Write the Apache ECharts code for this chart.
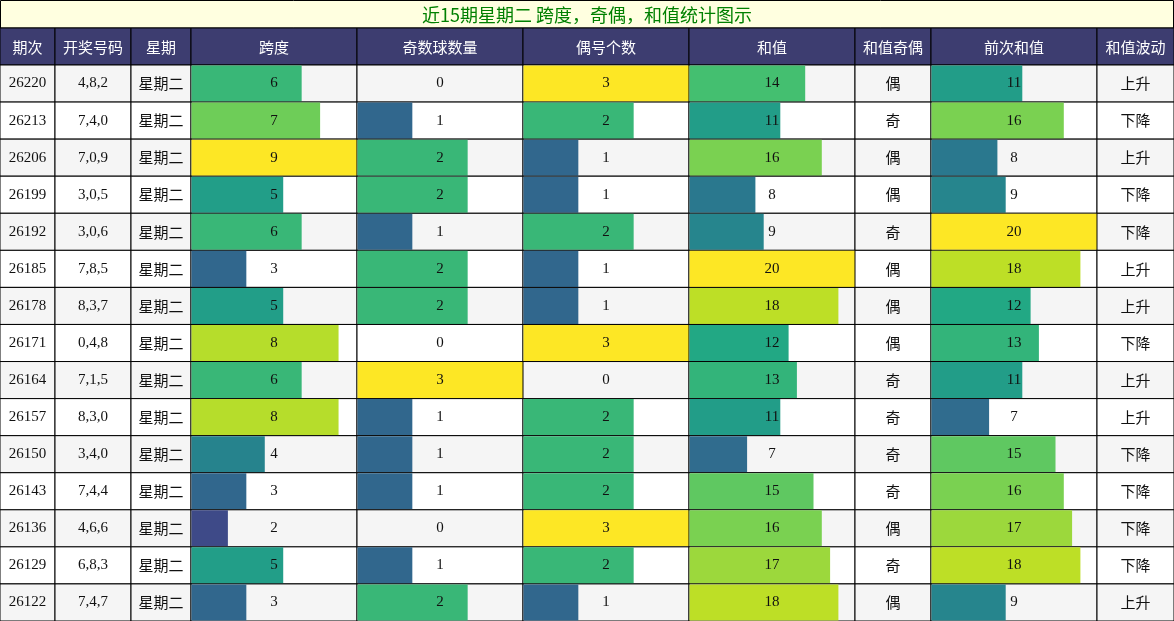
<!DOCTYPE html>
<html><head><meta charset="utf-8">
<script src="https://cdn.jsdelivr.net/npm/echarts@6/dist/echarts.min.js"></script>
<style>html,body{margin:0;padding:0;background:#fff}#c{width:1174px;height:621px}</style>
</head><body><div id="c"></div>
<script>
const title = '近15期星期二 跨度，奇偶，和值统计图示';
const headers = ['期次','开奖号码','星期','跨度','奇数球数量','偶号个数','和值','和值奇偶','前次和值','和值波动'];
const periods = ['26220','26213','26206','26199','26192','26185','26178','26171','26164','26157','26150','26143','26136','26129','26122'];
const codes = ['4,8,2','7,4,0','7,0,9','3,0,5','3,0,6','7,8,5','8,3,7','0,4,8','7,1,5','8,3,0','3,4,0','7,4,4','4,6,6','6,8,3','7,4,7'];
const weekday = Array(15).fill('星期二');
const span = [6,7,9,5,6,3,5,8,6,8,4,3,2,5,3];
const oddCount = [0,1,2,2,1,2,2,0,3,1,1,1,0,1,2];
const evenCount = [3,2,1,1,2,1,1,3,0,2,2,2,3,2,1];
const sums = [14,11,16,8,9,20,18,12,13,11,7,15,16,17,18];
const sumOE = ['偶','奇','偶','偶','奇','偶','偶','偶','奇','奇','奇','奇','偶','奇','偶'];
const prevSum = [11,16,8,9,20,18,12,13,11,7,15,16,17,18,9];
const trend = ['上升','下降','上升','下降','下降','上升','上升','下降','上升','上升','下降','下降','下降','下降','上升'];

const edges = [0,55,131,191,357,523,689,855,931,1097,1174];
const TOP = 65;
const viridis = ['#440154','#482475','#414487','#355f8d','#2a788e','#21918c','#22a884','#44bf70','#7ad151','#bddf26','#fde725'];
function hex(c){return [1,3,5].map(i=>parseInt(c.substr(i,2),16));}
function vcol(t){t=Math.max(0,Math.min(1,t));const p=t*10,i=Math.min(9,Math.floor(p)),f=p-i;
 const a=hex(viridis[i]),b=hex(viridis[i+1]);return 'rgb('+a.map((v,k)=>Math.round(v+(b[k]-v)*f)).join(',')+')';}

const cols = [
 {type:'text',data:periods,font:'"Liberation Serif",serif'},
 {type:'text',data:codes,font:'"Liberation Serif",serif'},
 {type:'text',data:weekday,font:'"Noto Sans CJK SC",sans-serif'},
 {type:'bar',data:span,max:9},
 {type:'bar',data:oddCount,max:3},
 {type:'bar',data:evenCount,max:3},
 {type:'bar',data:sums,max:20},
 {type:'text',data:sumOE,font:'"Noto Sans CJK SC",sans-serif'},
 {type:'bar',data:prevSum,max:20},
 {type:'text',data:trend,font:'"Noto Sans CJK SC",sans-serif'}
];
const rows = periods.map((_,i)=>i);
const grid=[],xAxis=[],yAxis=[],series=[];
cols.forEach((c,ci)=>{
 grid.push({left:edges[ci],top:TOP,width:edges[ci+1]-edges[ci],height:621-TOP});
 const mx = c.type==='bar'?c.max:1;
 xAxis.push({type:'value',gridIndex:ci,min:0,max:mx,show:false});
 yAxis.push({type:'category',gridIndex:ci,data:rows,inverse:true,show:false});
 series.push({type:'custom',xAxisIndex:ci,yAxisIndex:ci,
  data:c.data.map((v,i)=>[c.type==='bar'?v:0,i,v]),
  renderItem:function(params,api){
   const r=api.value(1),val=api.value(0);
   const p0=api.coord([0,r]),p1=api.coord([mx,r]);
   const h=api.size([0,1])[1];
   const x0=p0[0],x1=p1[0],y0=p0[1]-h/2;
   const bg = r%2===0?'#f5f5f5':'#ffffff';
   const ch=[{type:'rect',shape:{x:x0,y:y0,width:x1-x0,height:h},style:{fill:bg,stroke:'#000',lineWidth:1}}];
   if(c.type==='bar'){
    const pe=api.coord([val,r]);
    if(val>0) ch.push({type:'rect',shape:{x:x0+0.5,y:y0+0.5,width:pe[0]-x0-0.5,height:h-1},style:{fill:vcol(val/mx)}});
   }
   ch.push({type:'text',style:{text:String(c.data[params.dataIndex]),x:(x0+x1)/2,y:y0+h/2,align:'center',verticalAlign:'middle',fill:'#111',
     font:'15px '+(c.font||'"Liberation Serif",serif')}});
   return {type:'group',children:ch};
  }});
});
const graphic=[{type:'rect',shape:{x:0.5,y:0.5,width:1173,height:27.5},style:{fill:'#ffffe0',stroke:'#000',lineWidth:1}},
 {type:'text',style:{text:title,x:587,y:15,align:'center',verticalAlign:'middle',fill:'#008000',font:'18px "Noto Sans CJK SC","Liberation Serif",serif'}}];
headers.forEach((h,i)=>{
 graphic.push({type:'rect',shape:{x:edges[i],y:28,width:edges[i+1]-edges[i],height:37},style:{fill:'#3d3d70',stroke:'#000',lineWidth:1}});
 graphic.push({type:'text',style:{text:h,x:(edges[i]+edges[i+1])/2,y:47,align:'center',verticalAlign:'middle',fill:'#fff',font:'15px "Noto Sans CJK SC",sans-serif'}});
});
const chart=echarts.init(document.getElementById('c'));
chart.setOption({animation:false,grid,xAxis,yAxis,series,graphic});
</script></body></html>
